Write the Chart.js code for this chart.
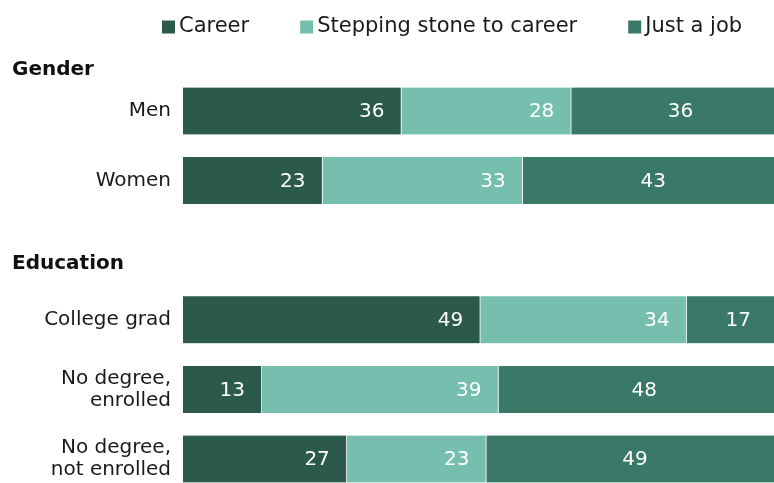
<!DOCTYPE html>
<html>
<head>
<meta charset="UTF-8">
<title>Career, stepping stone or just a job</title>
<script src="https://cdn.jsdelivr.net/npm/chart.js"></script>
<style>
  html, body { margin: 0; padding: 0; background: #fff; }
  #wrap { width: 774px; height: 483px; position: relative; }
</style>
</head>
<body>
<div id="wrap"><canvas id="jobChart"></canvas></div>
<script>
// rows (blank row separates the two groups)
const categories = ['Men', 'Women', '', 'College grad', ['No degree,', 'enrolled'], ['No degree,', 'not enrolled']];
const career   = [36, 23, null, 49, 13, 27];
const stepping = [28, 33, null, 34, 39, 23];
const justJob  = [36, 43, null, 17, 48, 49];

const seriesNames = ['Career', 'Stepping stone to career', 'Just a job'];
const seriesColors = ['#2b5a4d', '#76bfae', '#3a7867'];

// group headings sit above the given row
const groups = [
  { name: 'Gender', row: 0, lift: 41 },
  { name: 'Education', row: 3, lift: 56 }
];

const FONT = '"DejaVu Sans", Verdana, sans-serif';

// white value labels: first two segments right-aligned, last one centred
const valueLabels = {
  id: 'valueLabels',
  afterDatasetsDraw(chart) {
    const ctx = chart.ctx;
    ctx.save();
    ctx.font = '20px ' + FONT;
    ctx.fillStyle = '#ffffff';
    ctx.textBaseline = 'middle';
    chart.data.datasets.forEach((ds, i) => {
      chart.getDatasetMeta(i).data.forEach((bar, j) => {
        const v = ds.data[j];
        if (v == null) return;
        if (i < 2) {
          ctx.textAlign = 'right';
          ctx.fillText(String(v), bar.x - 17, bar.y + 1);
        } else {
          ctx.textAlign = 'center';
          ctx.fillText(String(v), (bar.base + bar.x) / 2, bar.y + 1);
        }
      });
    });
    ctx.restore();
  }
};

// group headings and the legend row
const extras = {
  id: 'extras',
  afterDraw(chart) {
    const ctx = chart.ctx;
    const y = chart.scales.y;
    ctx.save();
    ctx.fillStyle = '#111';
    ctx.textBaseline = 'middle';
    ctx.textAlign = 'left';
    ctx.font = 'bold 20px ' + FONT;
    groups.forEach(g => {
      ctx.fillText(g.name, 12, y.getPixelForValue(g.row) - g.lift);
    });

    ctx.font = '21px ' + FONT;
    let x = 162;
    const ly = 27;
    seriesNames.forEach((name, i) => {
      ctx.fillStyle = seriesColors[i];
      ctx.fillRect(x, ly - 6.5, 13, 13);
      ctx.fillStyle = '#1a1a1a';
      ctx.fillText(name, x + 17, ly);
      x += 17 + ctx.measureText(name).width + 51;
    });
    ctx.restore();
  }
};

const makeSet = (label, data, color) => ({
  label: label,
  data: data,
  backgroundColor: color,
  borderColor: 'rgba(255,255,255,0.45)',
  borderWidth: { top: 0, bottom: 0, left: 0, right: 1 },
  borderSkipped: false,
  barThickness: 47,
  clip: false
});

new Chart(document.getElementById('jobChart'), {
  type: 'bar',
  data: {
    labels: categories,
    datasets: [
      makeSet(seriesNames[0], career, seriesColors[0]),
      makeSet(seriesNames[1], stepping, seriesColors[1]),
      makeSet(seriesNames[2], justJob, seriesColors[2])
    ]
  },
  options: {
    indexAxis: 'y',
    responsive: true,
    maintainAspectRatio: false,
    animation: false,
    layout: { padding: { top: 111, bottom: 24, left: 0, right: 0 } },
    plugins: {
      legend: { display: false },
      tooltip: { enabled: false }
    },
    scales: {
      x: {
        stacked: true,
        display: false,
        min: 0,
        max: 97.4
      },
      y: {
        stacked: true,
        offset: false,
        grid: { display: false, drawTicks: false },
        border: { display: false },
        ticks: {
          color: '#1a1a1a',
          font: { family: FONT, size: 20, lineHeight: 1.1 },
          padding: 12
        },
        afterFit(scale) { scale.width = 183; }
      }
    }
  },
  plugins: [valueLabels, extras]
});
</script>
</body>
</html>
